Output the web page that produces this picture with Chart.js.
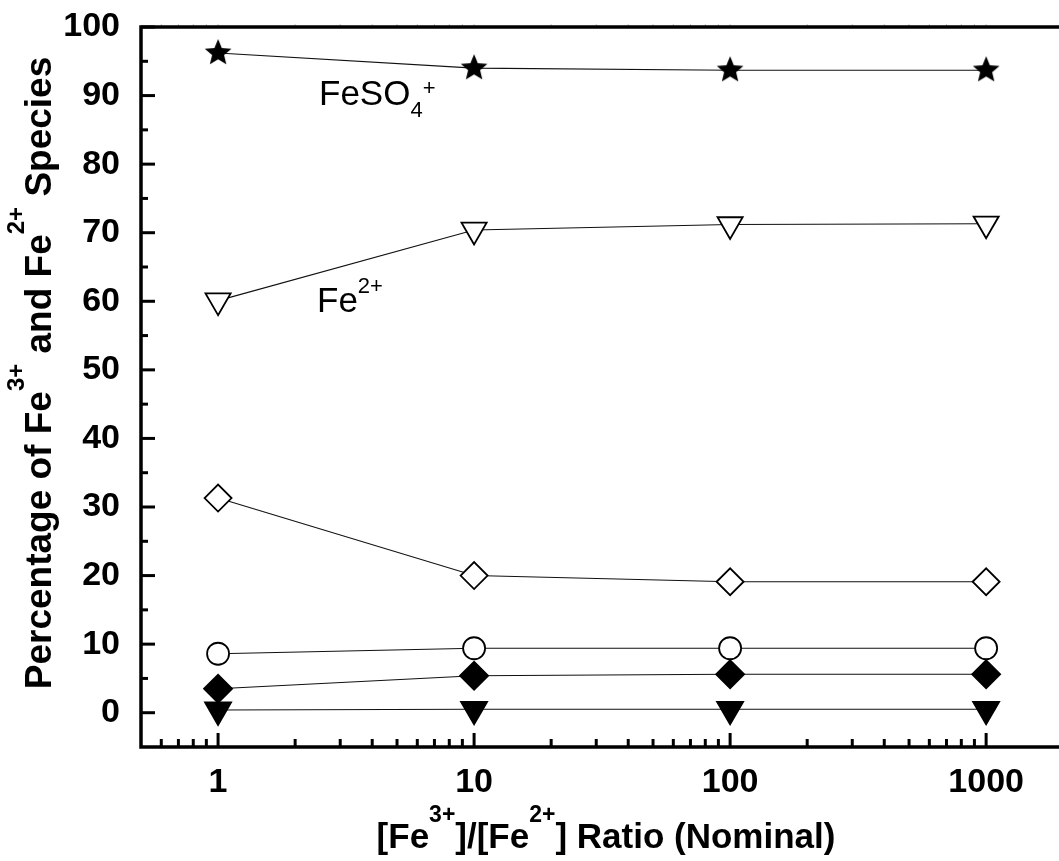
<!DOCTYPE html>
<html>
<head>
<meta charset="utf-8">
<title>Fe speciation</title>
<script src="https://cdn.jsdelivr.net/npm/chart.js@4.4.0/dist/chart.umd.min.js"></script>
<style>
  html, body { margin: 0; padding: 0; background: #fff; overflow: hidden; }
  #wrap { position: absolute; left: 0; top: 0; width: 1080px; height: 861px; }
</style>
</head>
<body>
<div id="wrap"><canvas id="speciesChart" width="1080" height="861"></canvas></div>
<script>
// nominal [Fe3+]/[Fe2+] ratios and percentage of each species
var ratios = [1, 10, 100, 1000];
var feso4 = [96.2, 94.0, 93.7, 93.7];
var fe2 = [60.1, 70.4, 71.2, 71.3];
var openDiamond = [31.3, 20.0, 19.1, 19.1];
var openCircle = [8.6, 9.4, 9.4, 9.4];
var filledDiamond = [3.5, 5.4, 5.6, 5.6];
var filledTriangle = [0.4, 0.5, 0.5, 0.5];

var xTickLabels = [1, 10, 100, 1000];
var yTickLabels = [0, 10, 20, 30, 40, 50, 60, 70, 80, 90, 100];

var FONT = '"Liberation Sans", Arial, Helvetica, sans-serif';

// filled five-pointed star, used as a point image
function starMarker(r) {
    var s = Math.ceil(r * 2 + 4);
    var c = document.createElement('canvas');
    c.width = s;
    c.height = s;
    var g = c.getContext('2d');
    g.translate(s / 2, s / 2);
    g.beginPath();
    for (var i = 0; i < 10; i++) {
        var rr = i % 2 ? r * 0.45 : r;
        var a = -Math.PI / 2 + i * Math.PI / 5;
        g.lineTo(Math.cos(a) * rr, Math.sin(a) * rr);
    }
    g.closePath();
    g.fillStyle = '#000';
    g.fill();
    return c;
}

function series(values, style, fill, radius, rotation) {
    return {
        data: ratios.map(function (x, i) { return { x: x, y: values[i] }; }),
        showLine: true,
        fill: false,
        borderColor: '#111',
        borderWidth: 1.1,
        pointStyle: style,
        pointRadius: radius,
        pointHoverRadius: radius,
        pointRotation: rotation || 0,
        pointBackgroundColor: fill,
        pointBorderColor: '#000',
        pointBorderWidth: 1.8
    };
}

// text runs with super/subscripts: [text, font, dy]
function drawRuns(ctx, runs, x, y, align) {
    var total = 0;
    runs.forEach(function (r) {
        ctx.font = r[1];
        total += ctx.measureText(r[0]).width;
    });
    var cx = align === 'center' ? x - total / 2 : x;
    ctx.textBaseline = 'alphabetic';
    ctx.textAlign = 'left';
    runs.forEach(function (r) {
        ctx.font = r[1];
        ctx.fillText(r[0], cx, y + (r[2] || 0));
        cx += ctx.measureText(r[0]).width;
    });
}

var axesPlugin = {
    id: 'axes',
    beforeDatasetsDraw: function (chart) {
        var ctx = chart.ctx, a = chart.chartArea;
        var xs = chart.scales.x, ys = chart.scales.y;
        ctx.save();
        ctx.strokeStyle = '#000';
        ctx.lineCap = 'butt';

        // y ticks, inward: major every 10, minor at 5s
        ctx.lineWidth = 3;
        for (var v = 0; v <= 100; v += 5) {
            var py = ys.getPixelForValue(v);
            var len = v % 10 === 0 ? 14 : 7;
            ctx.beginPath();
            ctx.moveTo(a.left, py);
            ctx.lineTo(a.left + len, py);
            ctx.stroke();
        }

        // log x ticks on bottom, faint ones along the top
        for (var d = -1; d <= 3; d++) {
            for (var m = 1; m <= 9; m++) {
                var xv = m * Math.pow(10, d);
                if (xv <= xs.min || xv > xs.max) continue;
                var px = xs.getPixelForValue(xv);
                ctx.lineWidth = 3;
                ctx.strokeStyle = '#000';
                ctx.beginPath();
                ctx.moveTo(px, a.bottom);
                ctx.lineTo(px, a.bottom - (m === 1 ? 14 : 8));
                ctx.stroke();
                ctx.lineWidth = 1;
                ctx.strokeStyle = '#c8c8c8';
                ctx.beginPath();
                ctx.moveTo(px, a.top - 3);
                ctx.lineTo(px, a.top);
                ctx.stroke();
            }
        }

        // frame
        ctx.strokeStyle = '#000';
        ctx.lineWidth = 3.5;
        ctx.beginPath();
        ctx.moveTo(a.right, a.top);
        ctx.lineTo(a.left, a.top);
        ctx.lineTo(a.left, a.bottom);
        ctx.lineTo(a.right, a.bottom);
        ctx.stroke();
        ctx.restore();
    },
    afterDraw: function (chart) {
        var ctx = chart.ctx;
        ctx.save();
        ctx.fillStyle = '#000';

        var bx = 'bold 35px ' + FONT;
        var sx = 'bold 23px ' + FONT;
        drawRuns(ctx, [
            ['[Fe', bx], ['3+', sx, -26], [']/[Fe', bx], ['2+', sx, -26],
            ['] Ratio (Nominal)', bx]
        ], 606, 848, 'center');

        var by = 'bold 37px ' + FONT;
        var sy = 'bold 24px ' + FONT;
        ctx.save();
        ctx.translate(51, 373);
        ctx.rotate(-Math.PI / 2);
        drawRuns(ctx, [
            ['Percentage of Fe', by], ['3+', sy, -27], [' and Fe', by],
            ['2+', sy, -27], [' Species', by]
        ], 0, 0, 'center');
        ctx.restore();

        // species labels
        var lab = '35px ' + FONT;
        var small = '22px ' + FONT;
        drawRuns(ctx, [['FeSO', lab], ['4', small, 12], ['+', small, -10]], 319, 105);
        drawRuns(ctx, [['Fe', lab], ['2+', small, -19]], 317, 312);
        ctx.restore();
    }
};

new Chart(document.getElementById('speciesChart'), {
    type: 'line',
    data: {
        datasets: [
            series(feso4, starMarker(14), '#000', 14),
            series(fe2, 'triangle', '#fff', 14.5, 180),
            series(openDiamond, 'rectRot', '#fff', 13.5),
            series(openCircle, 'circle', '#fff', 11),
            series(filledDiamond, 'rectRot', '#000', 14),
            series(filledTriangle, 'triangle', '#000', 15, 180)
        ]
    },
    options: {
        responsive: false,
        animation: false,
        events: [],
        layout: { padding: { top: 27, right: 10, left: 0, bottom: 0 } },
        plugins: {
            legend: { display: false },
            tooltip: { enabled: false }
        },
        scales: {
            x: {
                type: 'logarithmic',
                min: 0.5,
                max: 2000,
                grid: { display: false },
                border: { display: false },
                afterBuildTicks: function (s) {
                    s.ticks = xTickLabels.map(function (v) { return { value: v }; });
                },
                afterFit: function (s) {
                    s.height = 114;
                    s.paddingLeft = 0;
                    s.paddingRight = 0;
                },
                ticks: {
                    autoSkip: false,
                    maxRotation: 0,
                    padding: 7,
                    color: '#000',
                    font: { family: FONT, size: 34, weight: 'bold' },
                    callback: function (v) { return String(v); }
                }
            },
            y: {
                type: 'linear',
                min: -5,
                max: 100,
                grid: { display: false },
                border: { display: false },
                afterBuildTicks: function (s) {
                    s.ticks = yTickLabels.map(function (v) { return { value: v }; });
                },
                afterFit: function (s) {
                    s.width = 141;
                    s.paddingTop = 0;
                    s.paddingBottom = 0;
                },
                ticks: {
                    padding: 13,
                    color: '#000',
                    font: { family: FONT, size: 34, weight: 'bold' }
                }
            }
        }
    },
    plugins: [axesPlugin]
});
</script>
</body>
</html>
